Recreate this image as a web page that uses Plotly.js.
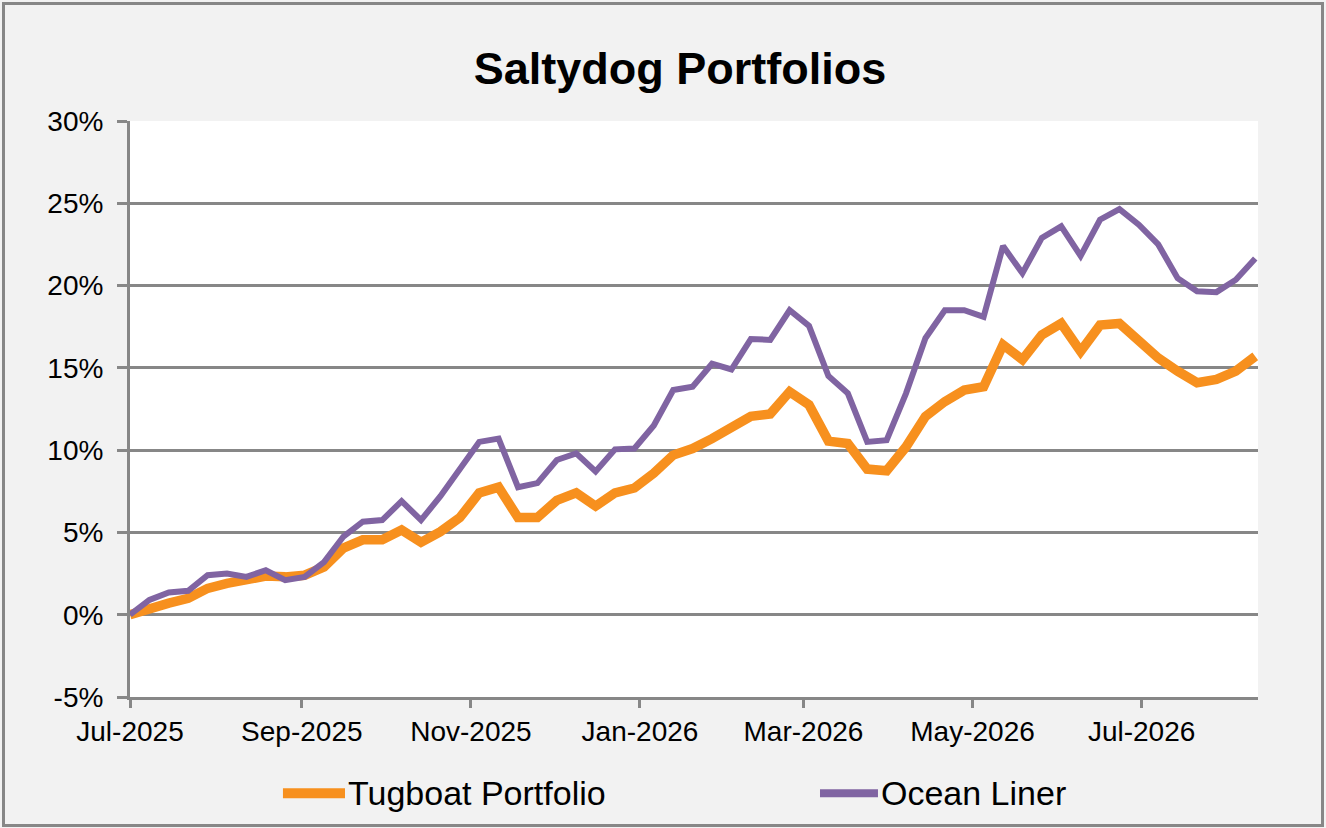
<!DOCTYPE html>
<html>
<head>
<meta charset="utf-8">
<script src="https://cdn.plot.ly/plotly-3.0.1.min.js"></script>
<style>
  html, body { margin: 0; padding: 0; background: #f2f2f2; }
  #wrap { position: relative; width: 1326px; height: 828px; }
  #chart { position: absolute; left: 0; top: 0; width: 1326px; height: 828px; }
  #frame { position: absolute; left: 2px; top: 2px; width: 1322px; height: 825px; box-sizing: border-box; border: 3px solid #878787; pointer-events: none; }
</style>
</head>
<body>
<div id="wrap">
  <div id="chart"></div>
  <div id="frame"></div>
</div>
<script>
const chartTitle = "Saltydog Portfolios";
const seriesNames = ["Tugboat Portfolio", "Ocean Liner"];
const seriesColors = ["#f7901e", "#8064a2"];

const dates = [
  "2025-07-01","2025-07-08","2025-07-15","2025-07-22","2025-07-29",
  "2025-08-05","2025-08-12","2025-08-19","2025-08-26",
  "2025-09-02","2025-09-09","2025-09-16","2025-09-23","2025-09-30",
  "2025-10-07","2025-10-14","2025-10-21","2025-10-28",
  "2025-11-04","2025-11-11","2025-11-18","2025-11-25",
  "2025-12-02","2025-12-09","2025-12-16","2025-12-23","2025-12-30",
  "2026-01-06","2026-01-13","2026-01-20","2026-01-27",
  "2026-02-03","2026-02-10","2026-02-17","2026-02-24",
  "2026-03-03","2026-03-10","2026-03-17","2026-03-24","2026-03-31",
  "2026-04-07","2026-04-14","2026-04-21","2026-04-28",
  "2026-05-05","2026-05-12","2026-05-19","2026-05-26",
  "2026-06-02","2026-06-09","2026-06-16","2026-06-23","2026-06-30",
  "2026-07-07","2026-07-14","2026-07-21","2026-07-28",
  "2026-08-04","2026-08-11"
];

// percent returns
const tugboat = [
  0, 0.4, 0.7, 1.0, 1.6, 1.9, 2.15, 2.35, 2.3, 2.4,
  2.9, 4.05, 4.55, 4.55, 5.15, 4.4, 5.05, 5.9, 7.4, 7.75,
  5.9, 5.9, 6.95, 7.4, 6.6, 7.4, 7.7, 8.6, 9.7, 10.1,
  10.7, 11.35, 12.05, 12.2, 13.55, 12.75, 10.55, 10.4, 8.85, 8.75,
  10.2, 12.05, 12.95, 13.65, 13.85, 16.4, 15.5, 17.0, 17.7, 16.0,
  17.6, 17.7, 16.7, 15.6, 14.8, 14.1, 14.3, 14.8, 15.7
];

const oceanLiner = [
  0, 0.9, 1.35, 1.45, 2.4, 2.5, 2.3, 2.7, 2.1, 2.3,
  3.2, 4.75, 5.65, 5.75, 6.9, 5.75, 7.2, 8.8, 10.5, 10.7,
  7.75, 8.0, 9.4, 9.8, 8.7, 10.05, 10.1, 11.5, 13.65, 13.85,
  15.25, 14.9, 16.75, 16.7, 18.5, 17.55, 14.5, 13.45, 10.5, 10.6,
  13.45, 16.8, 18.5, 18.5, 18.1, 22.4, 20.75, 22.9, 23.6, 21.8,
  24.0, 24.65, 23.7, 22.5, 20.45, 19.65, 19.6, 20.35, 21.65
];

const yTicks = [-5, 0, 5, 10, 15, 20, 25, 30];

const FONT = '"Liberation Sans", Arial, sans-serif';
const GRID = '#878787';

const traces = [
  { x: dates, y: tugboat, name: seriesNames[0], type: 'scatter', mode: 'lines',
    line: { color: seriesColors[0], width: 9.5 }, hoverinfo: 'x+y' },
  { x: dates, y: oceanLiner, name: seriesNames[1], type: 'scatter', mode: 'lines',
    line: { color: seriesColors[1], width: 6 }, hoverinfo: 'x+y' }
];

// custom legend (line samples + labels)
const legY = -0.167;
const legendItems = [
  { x0: 0.1356, x1: 0.1906, tx: 0.1915 },
  { x0: 0.6117, x1: 0.6631, tx: 0.6640 }
];
const shapes = legendItems.map((it, i) => ({
  type: 'line', xref: 'paper', yref: 'paper',
  x0: it.x0, x1: it.x1, y0: legY, y1: legY,
  line: { color: seriesColors[i], width: i === 0 ? 10 : 8 }
}));
const annotations = legendItems.map((it, i) => ({
  xref: 'paper', yref: 'paper', x: it.tx, y: legY,
  xanchor: 'left', yanchor: 'middle', showarrow: false,
  text: seriesNames[i], font: { family: FONT, size: 34, color: '#000' }
}));

const layout = {
  width: 1326, height: 828,
  paper_bgcolor: '#f2f2f2', plot_bgcolor: '#ffffff',
  margin: { l: 130, r: 68, t: 121, b: 131 },
  showlegend: false,
  title: { text: '<b>' + chartTitle + '</b>', font: { family: FONT, size: 45, color: '#000' },
           x: 0.5128, xref: 'container', xanchor: 'center', y: 0.918, yref: 'container', yanchor: 'middle' },
  xaxis: {
    type: 'date', range: ['2025-07-01', '2026-08-12'],
    tick0: '2025-07-01', dtick: 'M2', tickformat: '%b-%Y',
    showgrid: false, zeroline: false,
    showline: true, linecolor: GRID, linewidth: 3,
    ticks: 'outside', ticklen: 8, tickwidth: 3, tickcolor: GRID,
    tickfont: { family: FONT, size: 28, color: '#000' },
    ticklabelstandoff: -1
  },
  yaxis: {
    range: [-5, 30], tickvals: yTicks, ticktext: yTicks.map(v => v + '%'),
    showgrid: true, gridcolor: GRID, gridwidth: 3, zeroline: false,
    showline: true, linecolor: GRID, linewidth: 3,
    ticks: 'outside', ticklen: 10, tickwidth: 3, tickcolor: GRID,
    tickfont: { family: FONT, size: 28, color: '#000' },
    ticklabelstandoff: 8
  },
  shapes: shapes,
  annotations: annotations
};

Plotly.newPlot('chart', traces, layout, { displayModeBar: false, staticPlot: true });
</script>
</body>
</html>
